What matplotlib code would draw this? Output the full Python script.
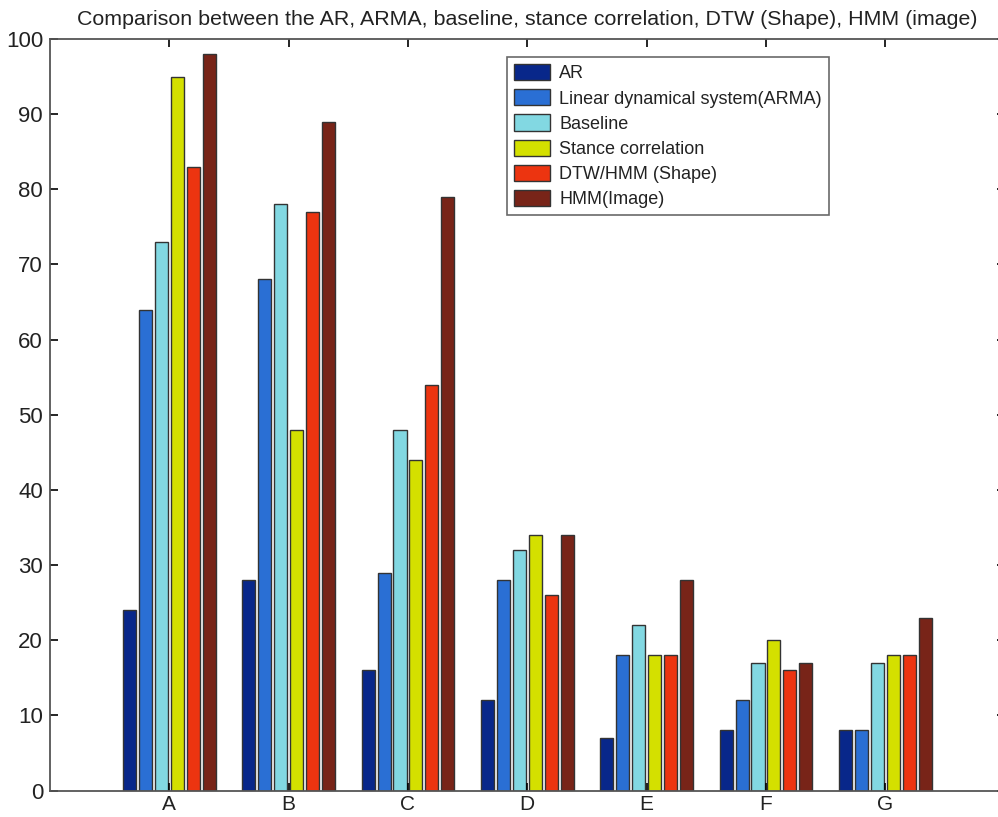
import matplotlib
matplotlib.use("Agg")
import matplotlib.pyplot as plt
import numpy as np

plt.rcParams['font.family'] = ['Liberation Sans', 'DejaVu Sans']

categories = ["A", "B", "C", "D", "E", "F", "G"]
series_names = ["AR", "Linear dynamical system(ARMA)", "Baseline",
                "Stance correlation", "DTW/HMM (Shape)", "HMM(Image)"]
ar = [24, 28, 16, 12, 7, 8, 8]
arma = [64, 68, 29, 28, 18, 12, 8]
baseline = [73, 78, 48, 32, 22, 17, 17]
stance = [95, 48, 44, 34, 18, 20, 18]
dtw = [83, 77, 54, 26, 18, 16, 18]
hmm = [98, 89, 79, 34, 28, 17, 23]
series = [ar, arma, baseline, stance, dtw, hmm]
colors = ["#08278a", "#2a6fd4", "#82d8e2", "#d4e000", "#ec3410", "#782418"]
yticks = [0, 10, 20, 30, 40, 50, 60, 70, 80, 90, 100]

fig = plt.figure(figsize=(9.98, 8.17), dpi=100)
ax = fig.add_axes([0.0501, 0.0324, 0.9565, 0.9199])

x = np.arange(1, len(categories) + 1)
slot = 0.8 / len(series)
bw = slot * 0.82
for i, (vals, c, name) in enumerate(zip(series, colors, series_names)):
    off = (i - (len(series) - 1) / 2) * slot
    ax.bar(x + off, vals, width=bw, color=c, edgecolor="#333333",
           linewidth=1.0, label=name)

ax.set_xlim(0, 8)
ax.set_ylim(0, 100)
ax.set_xticks(x)
ax.set_xticklabels(categories)
ax.set_yticks(yticks)
ax.tick_params(direction="in", length=6, width=1.2, top=True, right=True,
               labelsize=16, color="black", labelcolor="#222222")
ax.tick_params(axis="x", pad=3, labelsize=15)
ax.tick_params(axis="y", pad=5)
for s in ax.spines.values():
    s.set_color("#555555")
    s.set_linewidth(1.3)

ax.set_title("Comparison between the AR, ARMA, baseline, stance correlation, DTW (Shape), HMM (image)",
             fontsize=15.4, pad=10, color="#222222")

leg = ax.legend(loc="upper left", bbox_to_anchor=((507 - 50) / 954.6, (790.5 - 57) / 751.5),
                fontsize=13, frameon=True, fancybox=False, edgecolor="#444444",
                handlelength=2.0, handleheight=1.0, labelspacing=0.38,
                borderpad=0.4, handletextpad=0.5, borderaxespad=0)
leg.get_frame().set_linewidth(1.2)
for t in leg.get_texts():
    t.set_color("#222222")

fig.savefig("out.png", dpi=100)
